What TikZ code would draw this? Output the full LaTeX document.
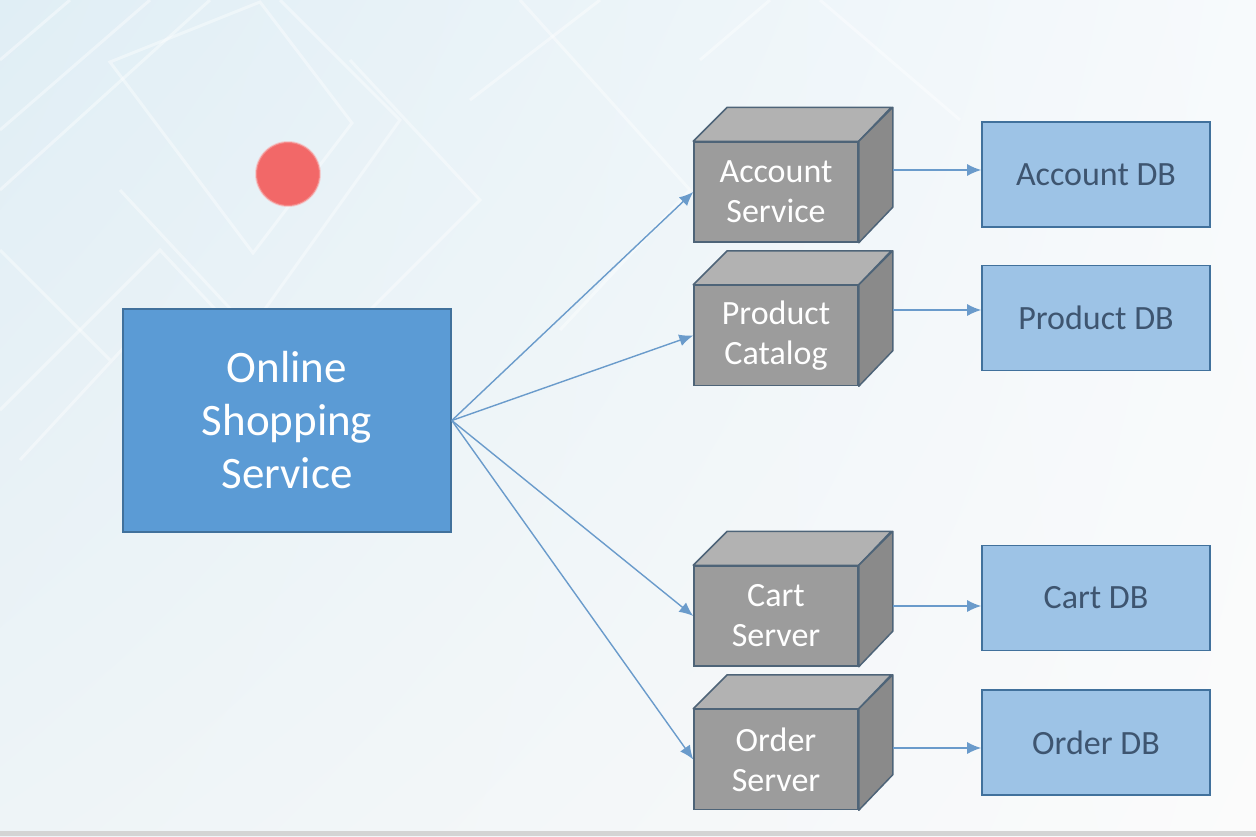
\documentclass[tikz,border=0pt]{standalone}
\usepackage{fontspec}
\setmainfont{Carlito}
\usetikzlibrary{arrows.meta,shadings}
\definecolor{mainfill}{HTML}{5B9BD5}
\definecolor{mainborder}{HTML}{41719C}
\definecolor{dbfill}{HTML}{9DC3E6}
\definecolor{dbtext}{HTML}{3E5570}
\definecolor{cubefront}{HTML}{9C9C9C}
\definecolor{cubetop}{HTML}{B2B2B2}
\definecolor{cubeside}{HTML}{8A8A8A}
\definecolor{cubeborder}{HTML}{4E6478}
\definecolor{arrowcol}{HTML}{6A9BCB}
\definecolor{bgA}{HTML}{E0EEF5}
\definecolor{bgB}{HTML}{F7FAFC}
\definecolor{bgC}{HTML}{EEF4F7}
\definecolor{bgD}{HTML}{FBFBFB}
\definecolor{dotred}{HTML}{F26868}
\tikzset{
  mainbox/.style={draw=mainborder, line width=1.6pt, fill=mainfill, text=white,
    minimum width=328pt, minimum height=223pt, align=center,
    font=\fontsize{45}{53}\selectfont, inner sep=0pt},
  cubefrontbox/.style={draw=cubeborder, line width=1.5pt, fill=cubefront, text=white,
    minimum width=164pt, minimum height=100pt, align=center,
    font=\fontsize{34}{40}\selectfont, inner sep=0pt},
  cubetopface/.style={draw=cubeborder, line width=1.5pt, fill=cubetop, line join=round},
  cubesideface/.style={draw=cubeborder, line width=1.5pt, fill=cubeside, line join=round},
  dbbox/.style={draw=mainborder, line width=1.6pt, fill=dbfill, text=dbtext,
    minimum width=228pt, minimum height=105pt, align=center,
    font=\fontsize{34}{40}\selectfont, inner sep=0pt},
  conn/.style={draw=arrowcol, line width=1.4pt, -{Latex[length=14pt,width=12pt]}},
  bgline/.style={draw=white, line width=3pt, opacity=0.4},
}
\newcommand{\cubefaces}[1]{%
  \path[cubetopface] (#1.north west) -- ++(34,-34) -- ++(164,0) -- (#1.north east) -- cycle;
  \path[cubesideface] (#1.north east) -- ++(34,-34) -- ++(0,100) -- (#1.south east) -- cycle;
}
\begin{document}
\begin{tikzpicture}[x=1pt,y=-1pt]
\useasboundingbox (0,0) rectangle (1256,836);
% background
\shade[upper left=bgA, upper right=bgB, lower left=bgC, lower right=bgD] (0,0) rectangle (1256,836);
\begin{scope}
\clip (0,0) rectangle (1256,830);
\path[bgline] (110,62) -- (260,2) -- (352,123) -- (253,253) -- cycle;
\path[bgline] (0,130) -- (150,0);
\path[bgline] (0,190) -- (210,0);
\path[bgline] (0,60) -- (70,0);
\path[bgline] (120,190) -- (250,330) -- (400,120) -- (280,0);
\path[bgline] (350,60) -- (480,200) -- (350,330);
\path[bgline] (520,0) -- (690,190) -- (560,330);
\path[bgline] (470,100) -- (600,0);
\path[bgline] (0,410) -- (160,250) -- (300,400);
\path[bgline] (0,250) -- (110,360);
\path[bgline] (140,330) -- (20,460);
\path[bgline] (820,0) -- (960,120);
\path[bgline] (700,60) -- (770,0);
\end{scope}
\fill[black!17] (0,831) rectangle (1256,836);
% red dot
\node[circle, fill=dotred, minimum size=64pt, inner sep=0pt, draw=dotred!55, line width=2pt, draw opacity=0.5] (dot) at (288,174) {};
% main box
\node[mainbox] (main) at (287,420.5) {Online\\Shopping\\Service};
% cubes (front faces)
\node[cubefrontbox] (acc) at (776,192) {Account\\Service};
\node[cubefrontbox] (prod) at (776,335.5) {Product\\Catalog};
\node[cubefrontbox] (cart) at (776,616) {Cart\\Server};
\node[cubefrontbox] (order) at (776,759.5) {Order\\Server};
\cubefaces{acc}
\cubefaces{prod}
\cubefaces{cart}
\cubefaces{order}
% databases
\node[dbbox] (accdb) at (1096,174.5) {Account DB};
\node[dbbox] (proddb) at (1096,318) {Product DB};
\node[dbbox] (cartdb) at (1096,598) {Cart DB};
\node[dbbox] (orderdb) at (1096,742.5) {Order DB};
% connectors
\coordinate (hub) at (main.east);
\draw[conn] (hub) -- (acc.west);
\draw[conn] (hub) -- (prod.west);
\draw[conn] (hub) -- (cart.west);
\draw[conn] (hub) -- (order.west);
\coordinate (a1) at ([xshift=34pt]acc.east |- 0,170);
\coordinate (p1) at ([xshift=34pt]prod.east |- 0,310);
\coordinate (c1) at ([xshift=34pt]cart.east |- 0,606);
\coordinate (o1) at ([xshift=34pt]order.east |- 0,748);
\draw[conn] (a1) -- (accdb.west |- a1);
\draw[conn] (p1) -- (proddb.west |- p1);
\draw[conn] (c1) -- (cartdb.west |- c1);
\draw[conn] (o1) -- (orderdb.west |- o1);
\end{tikzpicture}
\end{document}
